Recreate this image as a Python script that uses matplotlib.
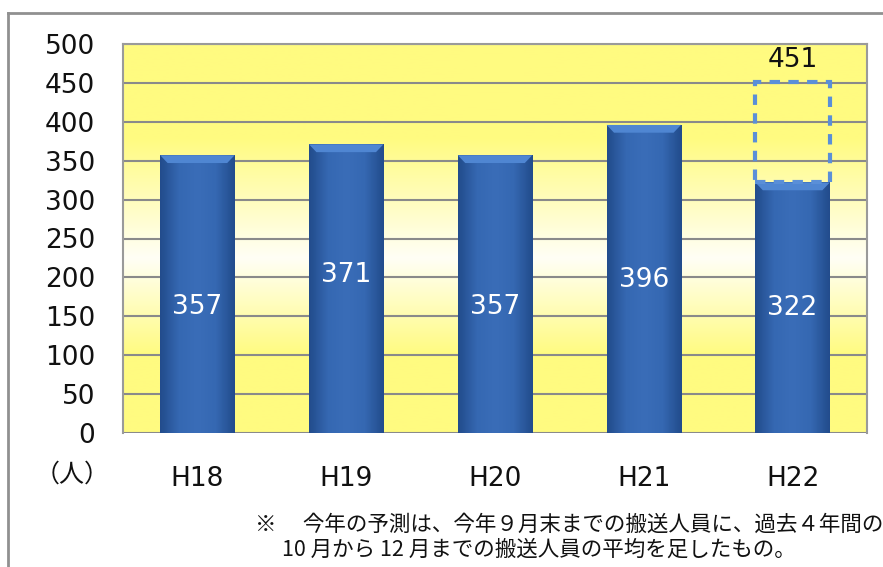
import numpy as np
import matplotlib
matplotlib.use("Agg")
import matplotlib.pyplot as plt
from matplotlib.colors import LinearSegmentedColormap
from matplotlib.patches import Polygon
from matplotlib.lines import Line2D

plt.rcParams['font.family'] = ['Noto Sans CJK JP', 'DejaVu Sans']

# data
years = ['H18', 'H19', 'H20', 'H21', 'H22']
counts = [357, 371, 357, 396, 322]
forecast = 451            # H22 projected total
label_y = [162, 203, 162, 197, 161]   # where the in-bar numbers sit
y_ticks = list(range(0, 501, 50))
unit = '（人）'
note1 = '※　 今年の予測は、今年９月末までの搬送人員に、過去４年間の'
note2 = '10 月から 12 月までの搬送人員の平均を足したもの。'

W, H = 883, 567
fig = plt.figure(figsize=(W / 100, H / 100), dpi=100)
ax = fig.add_axes([123 / W, 1 - 433 / H, 744 / W, 389 / H])

x = np.arange(len(years))
ax.set_xlim(-0.5, len(years) - 0.5)
ax.set_ylim(0, 500)

# yellow -> white -> yellow background
yel = '#fffb80'
bg = LinearSegmentedColormap.from_list(
    'bg', [(0, yel), (0.2, yel), (0.45, '#fffff6'), (0.76, yel), (1, yel)])
ax.imshow(np.linspace(0, 1, 256).reshape(-1, 1), cmap=bg, aspect='auto',
          extent=(-0.5, len(years) - 0.5, 0, 500), origin='lower', zorder=0)

for v in y_ticks:
    ax.axhline(v, color='#8a8a8a', lw=1.5, zorder=1)

# bars with a little horizontal shading
bars = ax.bar(x, counts, width=0.5, color='#3262a8', zorder=2, linewidth=0)
shade = LinearSegmentedColormap.from_list(
    'sh', ['#224c8c', '#3568b2', '#3a6db8', '#3568b2', '#224c8c'])
for b in bars:
    x0, w, h = b.get_x(), b.get_width(), b.get_height()
    im = ax.imshow(np.linspace(0, 1, 64).reshape(1, -1), cmap=shade,
                   aspect='auto', extent=(x0, x0 + w, 0, h), zorder=2.1)
    im.set_clip_path(b)
    cap = Polygon([(x0, h), (x0 + w, h), (x0 + w * 0.9, h - 10),
                   (x0 + w * 0.1, h - 10)], closed=True,
                  facecolor='#4f86d2', edgecolor='none', zorder=2.2)
    ax.add_patch(cap)

# dashed forecast box for H22
ax.bar(x[-1], forecast - counts[-1], bottom=counts[-1], width=0.5,
       fill=False, edgecolor='#5a8fd8', linewidth=3, linestyle=(0, (2.5, 2)),
       zorder=3)
ax.text(x[-1], forecast + 12, str(forecast), ha='center', va='bottom',
        fontsize=19, color='#111111', family=['DejaVu Sans'])

for xi, v, ly in zip(x, counts, label_y):
    ax.text(xi, ly, str(v), ha='center', va='center', fontsize=19,
            color='white', family=['DejaVu Sans'], zorder=4)

for s in ['left', 'top', 'right']:
    ax.spines[s].set_color('#9a9a9a')
    ax.spines[s].set_linewidth(1.5)
ax.spines['bottom'].set_visible(False)

ax.set_yticks(y_ticks)
ax.set_yticklabels([str(v) for v in y_ticks], fontsize=19,
                   family=['DejaVu Sans'])
ax.set_xticks(x)
ax.set_xticklabels(years, fontsize=19, family=['DejaVu Sans'])
ax.tick_params(axis='y', length=0, pad=20, colors='#111111')
ax.tick_params(axis='x', length=0, pad=24, colors='#111111')

fig.text(72 / W, 1 - 475 / H, unit, ha='center', va='center', fontsize=18,
         color='#111111')
fig.text(255 / W, 1 - 525 / H, note1, ha='left', va='center', fontsize=15.5,
         color='#111111')
fig.text(282 / W, 1 - 550 / H, note2, ha='left', va='center', fontsize=15.5,
         color='#111111')

# outer frame (runs off the right and bottom edges)
fig.add_artist(Line2D([8 / W, 1.0], [1 - 13 / H, 1 - 13 / H],
                      transform=fig.transFigure, color='#909090', lw=2))
fig.add_artist(Line2D([8 / W, 8 / W], [0, 1 - 13 / H],
                      transform=fig.transFigure, color='#909090', lw=2))

fig.savefig('out.png', dpi=100)
